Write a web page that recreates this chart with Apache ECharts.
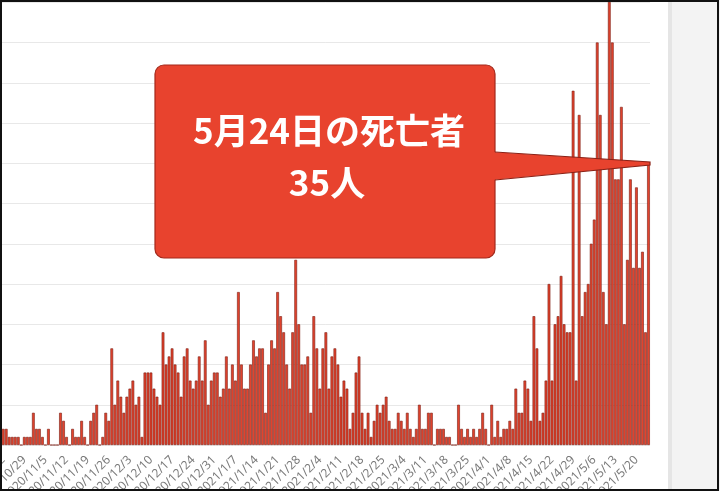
<!DOCTYPE html>
<html>
<head>
<meta charset="utf-8">
<script src="https://cdn.jsdelivr.net/npm/echarts/dist/echarts.min.js"></script>
<style>
  html, body { margin: 0; padding: 0; background: #ffffff; }
  #chart { width: 720px; height: 494px; }
</style>
</head>
<body>
<div id="chart"></div>
<script>
// ---- data ----
const startDate = [2020, 10, 22];   // first day shown
const dayCount = 215;               // 2020/10/22 .. 2021/5/24
const deaths = [
  2,2,1,1,1,1,0,1,1,1, 4,2,2,1,0,2,0,0,0,4, 3,1,0,2,1,1,3,1,0,3, 4,5,0,1,4,3,12,5,8,6,
  4,6,7,8,5,6,1,9,9,9,7,6,5,14,
  10,11,12,10,9,6,11,12,8,7,8,11,8,13,
  5,8,9,9,6,7,11,7,10,8,19,
  10,7,7,10,13,11,12,12,4,10,13,12,19,16,14,10,7,14,23,15,10,10,11,
  4,16,12,7,12,14,7,11,12,10,
  6,8,7,2,4,9,11,4,2,4, 1,3,5,4,5,6,3,2,2,4, 3,2,4,2,1,2,5,2,2,4, 4,0,2,2,2,1,1,0,0,5,
  2,1,2,1,2,1,2,4,2,0, 5,1,3,1,2,2,3,2,7,4, 4,8,7,3,16,12,3,4,8,20, 8,15,16,21,15,14,14,
  44,8,41,16,19,20,25,28,50,41, 19,15,56,50,33,33,42,15,23,33, 22,32,22,24,14,35
];
const calloutLines = ['5月24日の死亡者', '35人'];
const yTicks = [0, 55, 5]; // min, max, interval

// category labels (calendar dates)
const dates = [];
(function () {
  const d = new Date(startDate[0], startDate[1] - 1, startDate[2]);
  for (let i = 0; i < dayCount; i++) {
    dates.push(d.getFullYear() + '/' + (d.getMonth() + 1) + '/' + d.getDate());
    d.setDate(d.getDate() + 1);
  }
})();

const chart = echarts.init(document.getElementById('chart'), null, { renderer: 'canvas' });
const RED = '#e3432d';
const DARK = '#7a1c12';

chart.setOption({
  animation: false,
  backgroundColor: '#ffffff',
  grid: { left: 1.7, right: 70, top: 2.25, bottom: 49, containLabel: false, outerBoundsMode: 'none' },
  xAxis: {
    type: 'category',
    data: dates,
    boundaryGap: true,
    axisLine: { show: false },
    axisTick: { show: false },
    axisLabel: {
      interval: 6,
      rotate: 45,
      margin: 13,
      color: '#7a7a7a',
      fontSize: 12,
      fontFamily: 'Noto Sans'
    }
  },
  yAxis: {
    type: 'value',
    min: yTicks[0], max: yTicks[1], interval: yTicks[2],
    axisLine: { show: false },
    axisTick: { show: false },
    axisLabel: { show: false },
    splitLine: { lineStyle: { color: '#e8e8e8', width: 1 } }
  },
  series: [{
    type: 'bar',
    data: deaths,
    barCategoryGap: '10%',
    clip: true,
    itemStyle: { color: RED, borderColor: DARK, borderWidth: 0.6 }
  }],
  graphic: [
    // right grey panel
    { type: 'rect', z: 50, shape: { x: 668, y: 0, width: 52, height: 494 }, style: { fill: '#f3f3f3' } },
    { type: 'rect', z: 51, shape: { x: 668, y: 0, width: 4, height: 494 }, style: { fill: '#e5e5e5' } },
    // callout box
    { type: 'rect', z: 100, shape: { x: 155, y: 65, width: 340, height: 193, r: 9 },
      style: { fill: '#e8432e', stroke: '#a3291b', lineWidth: 1.2 } },
    { type: 'polygon', z: 101, shape: { points: [[492, 152], [650, 162], [650, 165], [492, 180]] },
      style: { fill: '#e8432e' } },
    { type: 'polyline', z: 102, shape: { points: [[495, 152], [650, 162], [650, 165], [495, 180]] },
      style: { stroke: '#8a2015', lineWidth: 1.2, fill: null } },
    { type: 'text', z: 103, style: { text: calloutLines[0], x: 329, y: 131, textAlign: 'center', textVerticalAlign: 'middle', align: 'center', verticalAlign: 'middle',
      fill: '#ffffff', font: 'bold 35px "Noto Sans CJK JP"' } },
    { type: 'text', z: 103, style: { text: calloutLines[1], x: 327, y: 183, textAlign: 'center', textVerticalAlign: 'middle', align: 'center', verticalAlign: 'middle',
      fill: '#ffffff', font: 'bold 35px "Noto Sans CJK JP"' } },
    // outer frame
    { type: 'rect', z: 120, shape: { x: 1, y: 1, width: 717, height: 489 },
      style: { fill: null, stroke: '#111111', lineWidth: 2 } },
    { type: 'rect', z: 119, shape: { x: 0, y: 491, width: 720, height: 3 }, style: { fill: '#ffffff' } }
  ]
});
</script>
</body>
</html>
